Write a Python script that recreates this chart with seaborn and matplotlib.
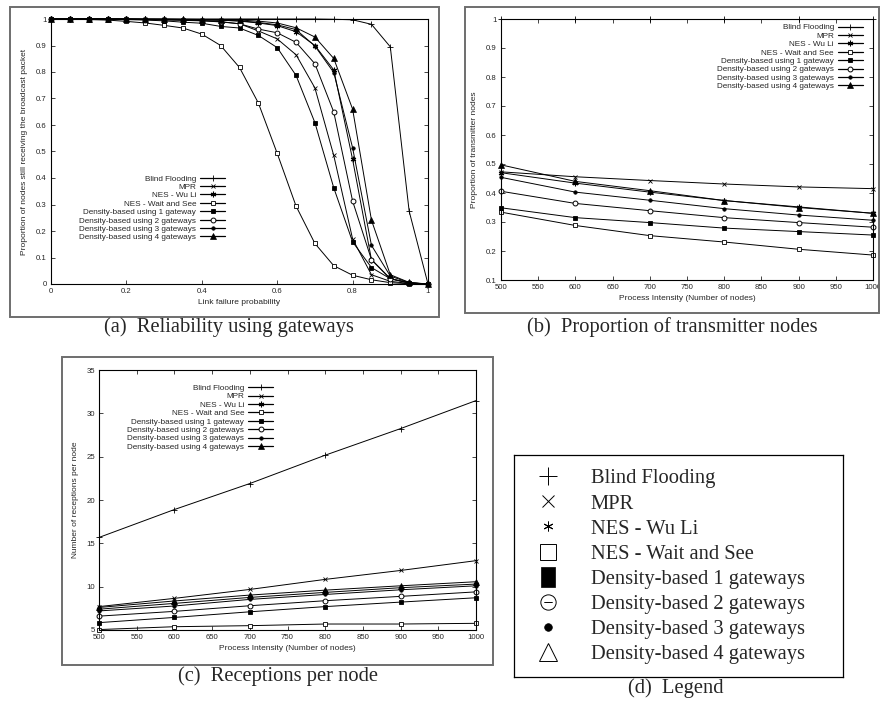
import numpy as np
import pandas as pd
import matplotlib
matplotlib.use("Agg")
import matplotlib.pyplot as plt
import seaborn as sns
from matplotlib.lines import Line2D
from matplotlib.patches import Rectangle
from matplotlib.path import Path
from matplotlib.ticker import FuncFormatter, MultipleLocator

# ---------------- data ----------------
series_names = ["Blind Flooding", "MPR", "NES - Wu Li", "NES - Wait and See",
                "Density-based using 1 gateway", "Density-based using 2 gateways",
                "Density-based using 3 gateways", "Density-based using 4 gateways"]
legend_names = ["Blind Flooding", "MPR", "NES - Wu Li", "NES - Wait and See",
                "Density-based 1 gateways", "Density-based 2 gateways",
                "Density-based 3 gateways", "Density-based 4 gateways"]

failure_prob = [0, 0.05, 0.1, 0.15, 0.2, 0.25, 0.3, 0.35, 0.4, 0.45, 0.5,
                0.55, 0.6, 0.65, 0.7, 0.75, 0.8, 0.85, 0.9, 0.95, 1.0]
rel_blind = [1, 1, 1, 1, 1, 1, 1, 1, 1, 1, 1, 1, 1, 1, 1, 0.999, 0.997, 0.98, 0.895, 0.275, 0.0]
rel_mpr = [1, 1, 1, 1, 0.999, 0.998, 0.997, 0.995, 0.993, 0.989, 0.982, 0.955, 0.925, 0.865, 0.74, 0.485, 0.17, 0.035, 0.01, 0.002, 0.0]
rel_wuli = [1, 1, 1, 1, 1, 0.999, 0.999, 0.998, 0.997, 0.996, 0.992, 0.985, 0.975, 0.952, 0.9, 0.808, 0.47, 0.092, 0.02, 0.004, 0.0]
rel_wait = [1, 0.999, 0.998, 0.996, 0.991, 0.985, 0.976, 0.966, 0.943, 0.9, 0.817, 0.683, 0.493, 0.294, 0.153, 0.069, 0.033, 0.016, 0.005, 0.001, 0.0]
rel_gw1 = [1, 1, 1, 0.999, 0.998, 0.996, 0.993, 0.988, 0.984, 0.972, 0.966, 0.938, 0.892, 0.787, 0.609, 0.363, 0.159, 0.062, 0.02, 0.004, 0.0]
rel_gw2 = [1, 1, 1, 1, 0.999, 0.998, 0.997, 0.996, 0.994, 0.99, 0.982, 0.962, 0.948, 0.912, 0.831, 0.649, 0.313, 0.092, 0.02, 0.004, 0.0]
rel_gw3 = [1, 1, 1, 1, 1, 0.999, 0.999, 0.998, 0.997, 0.995, 0.993, 0.987, 0.978, 0.96, 0.898, 0.798, 0.514, 0.146, 0.03, 0.005, 0.0]
rel_gw4 = [1, 1, 1, 1, 1, 1, 0.999, 0.999, 0.998, 0.997, 0.996, 0.992, 0.985, 0.967, 0.932, 0.851, 0.66, 0.241, 0.035, 0.006, 0.0]

nodes = [500, 600, 700, 800, 900, 1000]
tx_blind = [1.0, 1.0, 1.0, 1.0, 1.0, 1.0]
tx_mpr = [0.473, 0.456, 0.443, 0.431, 0.421, 0.415]
tx_wuli = [0.47, 0.434, 0.403, 0.374, 0.352, 0.33]
tx_wait = [0.334, 0.288, 0.253, 0.231, 0.206, 0.186]
tx_gw1 = [0.349, 0.315, 0.298, 0.279, 0.267, 0.255]
tx_gw2 = [0.406, 0.364, 0.339, 0.315, 0.298, 0.282]
tx_gw3 = [0.454, 0.403, 0.375, 0.346, 0.324, 0.306]
tx_gw4 = [0.497, 0.44, 0.408, 0.374, 0.35, 0.33]

rx_blind = [15.68, 18.9, 21.9, 25.17, 28.24, 31.47]
rx_mpr = [7.7, 8.65, 9.68, 10.84, 11.87, 13.0]
rx_wuli = [7.4, 8.07, 8.76, 9.34, 9.88, 10.3]
rx_wait = [5.05, 5.38, 5.5, 5.69, 5.69, 5.77]
rx_gw1 = [5.85, 6.45, 7.1, 7.7, 8.22, 8.72]
rx_gw2 = [6.6, 7.15, 7.8, 8.38, 8.88, 9.4]
rx_gw3 = [7.2, 7.77, 8.53, 9.1, 9.64, 10.1]
rx_gw4 = [7.6, 8.35, 9.03, 9.6, 10.1, 10.57]

rel_series = [rel_blind, rel_mpr, rel_wuli, rel_wait, rel_gw1, rel_gw2, rel_gw3, rel_gw4]
tx_series = [tx_blind, tx_mpr, tx_wuli, tx_wait, tx_gw1, tx_gw2, tx_gw3, tx_gw4]
rx_series = [rx_blind, rx_mpr, rx_wuli, rx_wait, rx_gw1, rx_gw2, rx_gw3, rx_gw4]

# ---------------- style ----------------
sns.set_style("ticks")
plt.rcParams["font.family"] = ["Liberation Sans", "DejaVu Sans"]
SERIF = ["Liberation Serif", "DejaVu Serif"]

W, H = 880, 702
fig = plt.figure(figsize=(W / 100, H / 100), dpi=100)
fig.patch.set_facecolor("white")


def fr(x0, y0, x1, y1):
    """pixel box -> figure fraction [left, bottom, width, height]"""
    return [x0 / W, 1 - y1 / H, (x1 - x0) / W, (y1 - y0) / H]


plot_styles = [
    dict(marker="+", ms=4.5, mew=0.6, mfc="black"),
    dict(marker="x", ms=3.2, mew=0.6, mfc="black"),
    dict(marker=(6, 2, 0), ms=4.0, mew=0.8, mfc="black"),
    dict(marker="s", ms=3.3, mew=0.6, mfc="white"),
    dict(marker="s", ms=3.3, mew=0.6, mfc="black"),
    dict(marker="o", ms=3.5, mew=0.7, mfc="white"),
    dict(marker="o", ms=2.5, mew=0.5, mfc="black"),
    dict(marker="^", ms=3.8, mew=0.5, mfc="black"),
]

fmt = FuncFormatter(lambda v, p: f"{v:g}")
FS = 5.6


def draw_panel(ax, xs, series, xlabel, ylabel, leg_anchor):
    for name, ys, st in zip(series_names, series, plot_styles):
        df = pd.DataFrame({"x": xs, "y": ys})
        sns.lineplot(data=df, x="x", y="y", ax=ax, color="black", lw=0.7,
                     mec="black", label=name, clip_on=False, **st)
    ax.set_xlabel(xlabel, fontsize=FS + 0.4, labelpad=3)
    ax.set_ylabel(ylabel, fontsize=FS + 0.4, labelpad=5.5)
    ax.tick_params(direction="in", top=True, right=True, length=3, width=0.6,
                   labelsize=FS, pad=3)
    ax.xaxis.set_major_formatter(fmt)
    ax.yaxis.set_major_formatter(fmt)
    for s in ax.spines.values():
        s.set_linewidth(0.8)
        s.set_color("black")
    leg = ax.legend(loc="upper right", bbox_to_anchor=leg_anchor, frameon=False,
                    markerfirst=False, fontsize=5.9, handlelength=3.0,
                    handletextpad=0.5, labelspacing=0.08, borderpad=0,
                    borderaxespad=0)
    for h in leg.legend_handles:
        h.set_linewidth(0.9)


# panel (a)
ax_a = fig.add_axes(fr(51, 19, 428, 284))
draw_panel(ax_a, failure_prob, rel_series, "Link failure probability",
           "Proportion of nodes still receiving the broadcast packet",
           (0.4615, 0.412))
ax_a.set_xlim(0, 1)
ax_a.set_ylim(0, 1)
ax_a.xaxis.set_major_locator(MultipleLocator(0.2))
ax_a.yaxis.set_major_locator(MultipleLocator(0.1))

# panel (b)
ax_b = fig.add_axes(fr(501, 19, 873, 280))
draw_panel(ax_b, nodes, tx_series, "Process Intensity (Number of nodes)",
           "Proportion of transmitter nodes", (0.972, 0.982))
ax_b.set_xlim(500, 1000)
ax_b.set_ylim(0.1, 1)
ax_b.xaxis.set_major_locator(MultipleLocator(50))
ax_b.yaxis.set_major_locator(MultipleLocator(0.1))

# panel (c)
ax_c = fig.add_axes(fr(99, 370, 476, 630))
draw_panel(ax_c, nodes, rx_series, "Process Intensity (Number of nodes)",
           "Number of receptions per node", (0.4615, 0.945))
ax_c.set_xlim(500, 1000)
ax_c.set_ylim(5, 35)
ax_c.xaxis.set_major_locator(MultipleLocator(50))
ax_c.yaxis.set_major_locator(MultipleLocator(5))

# panel (d): stand-alone legend
ax_d = fig.add_axes(fr(514, 455, 843, 677))
ax_d.set_xticks([])
ax_d.set_yticks([])
for s in ax_d.spines.values():
    s.set_linewidth(0.9)
    s.set_color("black")
tall_rect = Path([(-0.33, -0.5), (0.33, -0.5), (0.33, 0.5), (-0.33, 0.5), (-0.33, -0.5)],
                 [Path.MOVETO, Path.LINETO, Path.LINETO, Path.LINETO, Path.CLOSEPOLY])
circle_minus = Path.make_compound_path(
    Path.unit_circle(),
    Path([(-0.55, 0.0), (0.55, 0.0)], [Path.MOVETO, Path.LINETO]))
d_styles = [
    dict(marker="+", ms=13, mew=0.7, mfc="black"),
    dict(marker="x", ms=8.5, mew=0.7, mfc="black"),
    dict(marker=(6, 2, 0), ms=7, mew=0.7, mfc="black"),
    dict(marker="s", ms=11, mew=0.7, mfc="white"),
    dict(marker=tall_rect, ms=15, mew=0.5, mfc="black"),
    dict(marker=circle_minus, ms=11, mew=0.7, fillstyle="none"),
    dict(marker="o", ms=5.5, mew=0.5, mfc="black"),
    dict(marker="^", ms=13, mew=0.7, mfc="white"),
]
d_handles = [Line2D([], [], ls="none", color="black", mec="black", **st) for st in d_styles]
DFS = 14.8
ax_d.legend(d_handles, legend_names, loc="upper left", bbox_to_anchor=(0.065, 0.937),
            frameon=False, prop={"family": SERIF, "size": DFS},
            handlelength=1.25, handletextpad=1.45, labelspacing=0.28, borderpad=0,
            borderaxespad=0)

# outer grey frames of the sub-figures
for (x0, y0, x1, y1) in [(10, 7, 439, 317), (465, 7, 879, 313), (62, 357, 493, 665)]:
    fig.add_artist(Rectangle((x0 / W, 1 - y1 / H), (x1 - x0) / W, (y1 - y0) / H,
                             transform=fig.transFigure, fill=False, ec="#6e6e6e", lw=1.4))

# captions
captions = [("(a)  Reliability using gateways", 229, 327),
            ("(b)  Proportion of transmitter nodes", 672, 327),
            ("(c)  Receptions per node", 278, 676),
            ("(d)  Legend", 676, 688)]
for txt, cx, cy in captions:
    fig.text(cx / W, 1 - cy / H, txt, ha="center", va="center", fontsize=DFS,
             family=SERIF)

fig.savefig("out.png", dpi=100, facecolor="white")
